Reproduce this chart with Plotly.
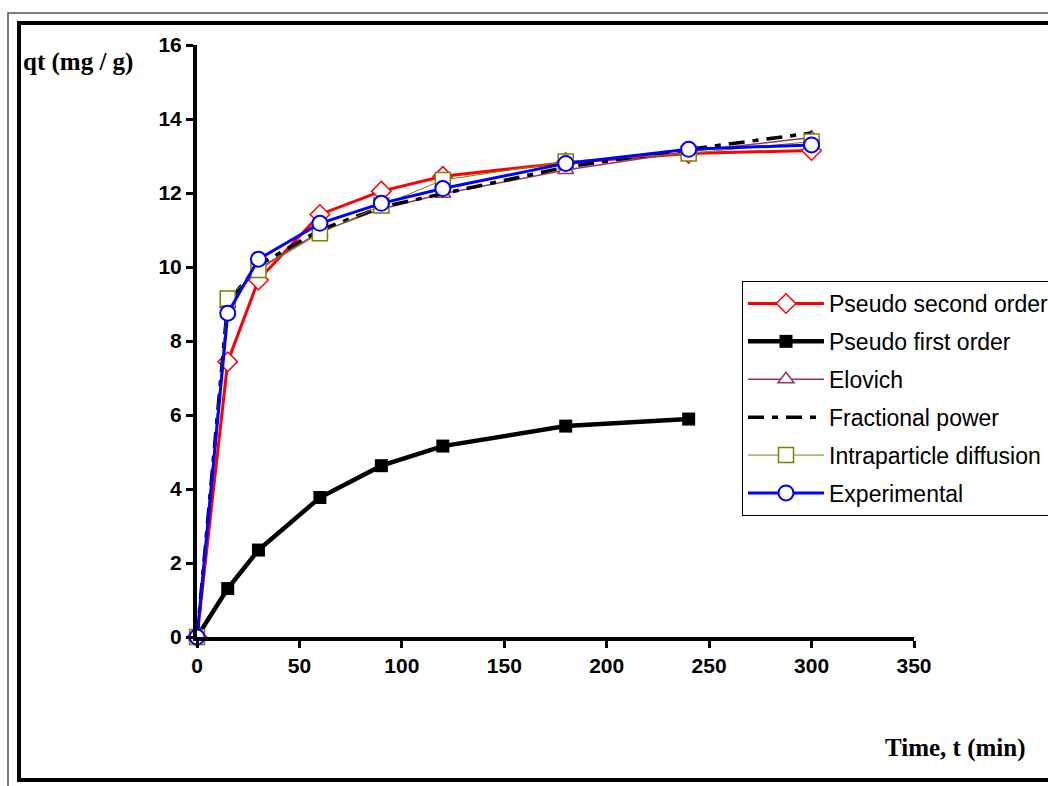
import plotly.graph_objects as go

# ---- data ----
time_min = [0, 15, 30, 60, 90, 120, 180, 240, 300]
time_pfo = [0, 15, 30, 60, 90, 120, 180, 240]

pseudo_second = [0, 7.44, 9.65, 11.42, 12.05, 12.45, 12.82, 13.07, 13.15]
pseudo_first = [0, 1.31, 2.35, 3.77, 4.63, 5.16, 5.70, 5.89]
elovich = [0, 9.0, 9.95, 10.95, 11.57, 11.98, 12.62, 13.12, 13.50]
fractional = [0, 9.05, 10.05, 11.0, 11.62, 11.98, 12.70, 13.18, 13.62]
intraparticle = [0, 9.15, 9.92, 10.91, 11.66, 12.35, 12.85, 13.07, 13.39]
experimental = [0, 8.75, 10.21, 11.18, 11.72, 12.12, 12.80, 13.18, 13.30]

x_ticks = [0, 50, 100, 150, 200, 250, 300, 350]
y_ticks = [0, 2, 4, 6, 8, 10, 12, 14, 16]

fig = go.Figure()

fig.add_trace(go.Scatter(
    x=time_min, y=pseudo_second, name="Pseudo second order", mode="lines+markers",
    line=dict(color="#ff0000", width=3),
    marker=dict(symbol="diamond", size=15, color="white", line=dict(color="#ff0000", width=1.5)),
    cliponaxis=False, legendgroup="a"))
fig.add_trace(go.Scatter(
    x=time_pfo, y=pseudo_first, name="Pseudo first order", mode="lines+markers",
    line=dict(color="black", width=4.5),
    marker=dict(symbol="square", size=13, color="black"),
    cliponaxis=False, legendgroup="b"))
fig.add_trace(go.Scatter(
    x=time_min, y=elovich, name="Elovich", mode="lines+markers",
    line=dict(color="#993366", width=1.5),
    marker=dict(symbol="triangle-up", size=14, color="white", line=dict(color="#993366", width=1.5)),
    cliponaxis=False, legendgroup="c"))
fig.add_trace(go.Scatter(
    x=time_min, y=fractional, name="Fractional power", mode="lines",
    line=dict(color="black", width=3.5, dash="16px,8px,6px,8px"),
    cliponaxis=False, legendgroup="d"))
fig.add_trace(go.Scatter(
    x=time_min, y=intraparticle, name="Intraparticle diffusion", mode="lines+markers",
    line=dict(color="#808000", width=1),
    marker=dict(symbol="square", size=15, color="white", line=dict(color="#808000", width=1.5)),
    cliponaxis=False, legendgroup="e"))
fig.add_trace(go.Scatter(
    x=time_min, y=experimental, name="Experimental", mode="lines+markers",
    line=dict(color="#0000ff", width=3),
    marker=dict(symbol="circle", size=15, color="white", line=dict(color="#0000ff", width=2)),
    cliponaxis=False, legendgroup="f"))

tickfont = dict(family="Liberation Sans", size=21, color="black", weight="bold")

fig.update_xaxes(range=[0, 350], tickvals=x_ticks, ticktext=[str(v) for v in x_ticks],
                 showline=True, linewidth=4, linecolor="black", ticks="outside",
                 ticklen=7, tickwidth=3, tickcolor="black", showgrid=False, zeroline=False,
                 tickfont=tickfont)
fig.update_yaxes(range=[0, 16], tickvals=y_ticks, ticktext=[str(v) for v in y_ticks],
                 showline=True, linewidth=4, linecolor="black", ticks="outside",
                 ticklen=7, tickwidth=3, tickcolor="black", showgrid=False, zeroline=False,
                 tickfont=tickfont)

L, R, T, B = 197, 134, 45, 149
W, H = 1048, 786
pw, ph = W - L - R, H - T - B


def px(xp):
    return (xp - L) / pw


def py(yp):
    return (H - B - yp) / ph


shapes = [
    dict(type="rect", xref="paper", yref="paper", x0=px(8), x1=px(1070), y0=py(800), y1=py(13),
         line=dict(color="#555555", width=1.5), fillcolor="rgba(0,0,0,0)", layer="below"),
    dict(type="rect", xref="paper", yref="paper", x0=px(19), x1=px(1070), y0=py(780), y1=py(23),
         line=dict(color="black", width=4), fillcolor="rgba(0,0,0,0)", layer="below"),
]

annotations = [
    dict(text="qt (mg / g)", xref="paper", yref="paper", x=px(21), y=py(62),
         xanchor="left", yanchor="middle", showarrow=False,
         font=dict(family="Liberation Serif", size=25, color="black", weight="bold")),
    dict(text="Time, t (min)", xref="paper", yref="paper", x=px(1028), y=py(748),
         xanchor="right", yanchor="middle", showarrow=False,
         font=dict(family="Liberation Serif", size=25, color="black", weight="bold")),
]

fig.update_layout(
    width=W, height=H,
    margin=dict(l=L, r=R, t=T, b=B, autoexpand=False),
    paper_bgcolor="white", plot_bgcolor="white",
    shapes=shapes, annotations=annotations,
    showlegend=True,
    legend=dict(x=px(742), y=py(281), xanchor="left", yanchor="top",
                bgcolor="white", bordercolor="black", borderwidth=1,
                font=dict(family="Liberation Sans", size=23, color="black"),
                tracegroupgap=5, itemwidth=76),
)

fig.write_html("out.html", config={"displayModeBar": False},
               post_script="document.body.style.margin='0';")
